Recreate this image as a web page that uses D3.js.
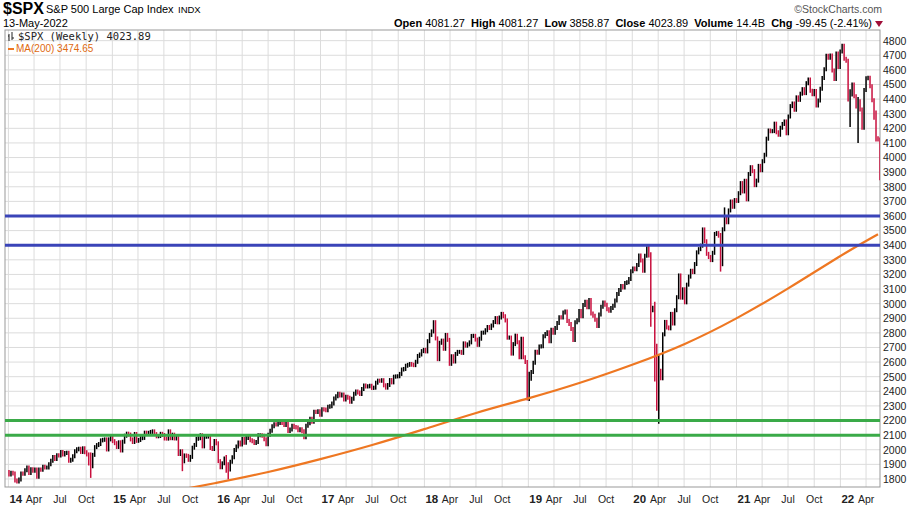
<!DOCTYPE html>
<html><head><meta charset="utf-8">
<script src="https://cdn.jsdelivr.net/npm/d3@7"></script>
<style>
body{margin:0;background:#fff;font-family:"Liberation Sans",Arial,sans-serif;}
</style></head>
<body><svg id="chart" width="909" height="509"></svg>
<script>
// weekly closes, first Friday 2014-01-03
const closes = [
1831,1842,1838,1790,1782,1797,1838,1836,1859,1878,1841,1866,1857,1865,1815,1864,1863,1884,1878,1878,1900,1924,1950,1937,1963,1960,1985,1967,1978,1979,1925,1932,1955,1989,2003,2007,1985,2010,1983,1968,1906,1887,1965,2018,2032,2039,2064,2068,2071,2002,2071,2089,2059,
2045,2019,2051,1995,2055,2096,2110,2104,2071,2053,2108,2061,2067,2079,2081,2117,2108,2116,2122,2126,2107,2092,2094,2109,2101,2077,2076,2126,2079,2103,2077,2092,1971,1989,1921,1961,1958,1931,1951,2014,2033,2075,2079,2099,2023,2089,2090,2091,2012,2005,2060,2044,
1922,1880,1907,1940,1880,1865,1918,1948,1999,2022,2050,2036,2073,2048,2081,2092,2065,2058,2047,2053,2099,2099,2096,2071,2037,2103,2130,2161,2175,2173,2183,2184,2183,2169,2180,2128,2139,2164,2155,2153,2133,2141,2126,2085,2164,2182,2213,2192,2260,2258,2263,2239,
2277,2275,2271,2295,2297,2316,2351,2367,2383,2372,2378,2344,2363,2356,2329,2349,2384,2399,2391,2381,2416,2439,2433,2434,2438,2423,2425,2459,2473,2472,2476,2441,2425,2443,2477,2461,2500,2502,2503,2519,2549,2553,2575,2581,2587,2582,2579,2602,2642,2652,2675,2684,2673,
2743,2786,2810,2873,2762,2620,2732,2747,2691,2786,2752,2588,2640,2604,2656,2670,2670,2663,2728,2712,2721,2735,2779,2780,2754,2718,2760,2801,2802,2818,2840,2833,2850,2874,2901,2872,2905,2930,2914,2885,2767,2768,2658,2723,2781,2736,2633,2760,2633,2600,2416,2486,
2532,2596,2671,2664,2707,2708,2776,2792,2804,2743,2822,2800,2834,2867,2907,2905,2940,2946,2881,2860,2826,2752,2873,2886,2950,2913,2990,3013,2976,3025,2932,2918,2889,2847,2926,2979,3007,2992,2961,2952,2970,2986,3022,3066,3093,3120,3110,3141,3146,3169,3221,3240,
3235,3265,3330,3295,3225,3328,3380,3338,2954,2972,2711,2305,2541,2489,2790,2875,2837,2831,2930,2864,2955,3044,3193,3041,3098,3009,3130,3185,3225,3216,3271,3351,3373,3397,3508,3427,3341,3319,3298,3348,3477,3483,3465,3270,3509,3585,3557,3638,3699,3663,3709,3703,3756,
3825,3768,3841,3714,3887,3934,3907,3811,3842,3943,3913,3975,4019,4129,4185,4180,4181,4232,4173,4156,4204,4230,4247,4166,4281,4352,4370,4327,4412,4395,4437,4468,4441,4509,4535,4458,4433,4455,4357,4391,4471,4545,4605,4697,4683,4698,4595,4538,4712,4620,4725,4766,
4677,4662,4398,4432,4500,4419,4349,4385,4329,4204,4463,4543,4546,4488,4392,4272,4132,4123,4024
];
const firstOpen = 1848;
// intraweek extremes of a few notable weeks, keyed by that week's close
const extremeCloses = [1887, 1921, 1880, 1865, 2416, 2486, 3338, 2954, 2711, 2305, 2541, 3270, 3585, 4432, 4385, 4132, 4024];
const extremeLows   = [1821, 1867, 1857, 1810, 2351, 2347, 3330, 2855, 2480, 2280, 2192, 3233, 3510, 4222, 4114, 4124, 3858];
const extremeHighs  = [1968, 1990, 1950, 1900, 2600, 2520, 3393, 3260, 3000, 2711, 2637, 3470, 3645, 4453, 4400, 4308, 4081];
const maDates = ["2015-07-01","2016-01-01","2016-07-01","2017-01-01","2017-07-01","2018-01-01","2018-07-01","2019-01-01","2019-07-01","2020-01-01","2020-07-01","2021-01-01","2021-07-01","2022-01-01","2022-05-13"];
const maValues = [1705,1772,1845,1935,2030,2140,2255,2350,2455,2580,2715,2895,3100,3330,3475];
const yTicks = d3.range(1800, 4801, 100);
const hLinesBlue = [3600, 3400];
const hLinesGreen = [2200, 2100];

const svg = d3.select('#chart');
const L = 5, R = 880, T = 30, B = 487;

const t0 = new Date(2014, 0, 3);
const dates = closes.map((c, i) => d3.timeDay.offset(t0, 7 * i));

const x = d3.scaleTime()
    .domain([new Date(2013, 11, 20), new Date(2022, 4, 20)])
    .range([L, R]);
const y = d3.scaleLinear().domain([1745, 4873]).range([B, T]);

const plot = svg.append('g');
plot.append('defs').append('clipPath').attr('id', 'clip')
    .append('rect').attr('x', L).attr('y', T).attr('width', R - L).attr('height', B - T);

// grid
const months = d3.timeMonth.every(3).range(new Date(2014, 0, 1), new Date(2022, 5, 1));
plot.selectAll('.vg').data(months).enter().append('line')
    .attr('x1', d => x(d)).attr('x2', d => x(d)).attr('y1', T).attr('y2', B)
    .attr('stroke', '#dcdcdc').attr('stroke-width', 1);
plot.selectAll('.hg').data(yTicks).enter().append('line')
    .attr('x1', L).attr('x2', R).attr('y1', d => y(d)).attr('y2', d => y(d))
    .attr('stroke', '#dcdcdc').attr('stroke-width', 1);
plot.append('rect').attr('x', L).attr('y', T).attr('width', R - L).attr('height', B - T)
    .attr('fill', 'none').attr('stroke', '#999');

// price bars
const bars = closes.map((c, i) => {
    let o = i == 0 ? firstOpen : closes[i - 1];
    return {date: dates[i], open: o, close: c, hi: Math.max(o, c), lo: Math.min(o, c)};
});
extremeCloses.forEach((c, k) => {
    let b = bars[closes.lastIndexOf(c)];
    b.hi = Math.max(b.hi, extremeHighs[k]);
    b.lo = Math.min(b.lo, extremeLows[k]);
});
const g = plot.append('g').attr('clip-path', 'url(#clip)');
g.selectAll('.bar').data(bars).enter().append('line')
    .attr('x1', d => x(d.date)).attr('x2', d => x(d.date))
    .attr('y1', d => y(d.hi) - 2).attr('y2', d => y(d.lo) + 2)
    .attr('stroke', d => d.close < d.open ? '#c8103e' : '#000').attr('stroke-width', 1.5);

// MA line
const ma = maDates.map((d, i) => ({date: new Date(d), value: maValues[i]}));
g.append('path').datum(ma)
    .attr('d', d3.line().x(d => x(d.date)).y(d => y(d.value)).curve(d3.curveBasis))
    .attr('fill', 'none').attr('stroke', '#ee7722').attr('stroke-width', 2.2);

// horizontal lines
const hl = hLinesBlue.map(v => ({v, c: '#3a44b8'})).concat(hLinesGreen.map(v => ({v, c: '#3aaa48'})));
g.selectAll('.hl').data(hl).enter().append('line')
    .attr('x1', L).attr('x2', R).attr('y1', d => y(d.v)).attr('y2', d => y(d.v))
    .attr('stroke', d => d.c).attr('stroke-width', 3);

// y axis
svg.append('g').attr('transform', `translate(${R},0)`)
    .call(d3.axisRight(y).tickValues(yTicks).tickSize(0).tickPadding(3).tickFormat(d3.format('d')))
    .call(a => a.select('.domain').remove())
    .selectAll('text').attr('font-size', 10.5).attr('fill', '#222');

// x labels
const xl = svg.append('g');
months.forEach(m => {
    const isYear = m.getMonth() == 0;
    xl.append('text').attr('x', x(m) + (isYear ? 1 : 0)).attr('y', 503)
        .attr('text-anchor', isYear ? 'start' : 'middle')
        .attr('font-size', isYear ? 11.5 : 10.5).attr('font-weight', isYear ? 'bold' : 'normal')
        .attr('fill', '#222')
        .text(isYear ? d3.timeFormat('%y')(m) : d3.timeFormat('%b')(m));
});

// header
svg.append('text').attr('x', 3).attr('y', 14).attr('font-size', 16).attr('font-weight', 'bold').text('$SPX');
svg.append('text').attr('x', 46).attr('y', 13).attr('font-size', 11).text('S&P 500 Large Cap Index');
svg.append('text').attr('x', 178).attr('y', 13).attr('font-size', 9.5).text('INDX');
svg.append('text').attr('x', 3).attr('y', 27).attr('font-size', 11).text('13-May-2022');
svg.append('text').attr('x', 882).attr('y', 13).attr('text-anchor', 'end').attr('font-size', 10.5).attr('fill', '#555').text('©StockCharts.com');
const hdr = svg.append('text').attr('x', 872).attr('y', 27).attr('text-anchor', 'end').attr('font-size', 11);
[['Open', ' 4081.27  '], ['High', ' 4081.27  '], ['Low', ' 3858.87  '], ['Close', ' 4023.89  '], ['Volume', ' 14.4B  '], ['Chg', ' -99.45 (-2.41%)']]
    .forEach(([k, v]) => {
        hdr.append('tspan').attr('font-weight', 'bold').text(k);
        hdr.append('tspan').attr('xml:space', 'preserve').text(v);
    });
svg.append('path').attr('d', 'M875,21 L883,21 L879,27 Z').attr('fill', '#a0103a');

// legend
svg.append('text').attr('x', 18).attr('y', 40).attr('font-family', 'DejaVu Sans Mono').attr('font-size', 10.5).attr('fill', '#222').text('$SPX (Weekly) 4023.89');
svg.append('path').attr('d', 'M9,34 V41 M8,36 H9 M12,32 V40 M12,38 H14').attr('stroke', '#222').attr('fill', 'none');
svg.append('line').attr('x1', 8).attr('x2', 14).attr('y1', 49).attr('y2', 49).attr('stroke', '#ee7722').attr('stroke-width', 2);
svg.append('text').attr('x', 16).attr('y', 52).attr('font-size', 10).attr('fill', '#e06a10').text('MA(200) 3474.65');
</script></body></html>
